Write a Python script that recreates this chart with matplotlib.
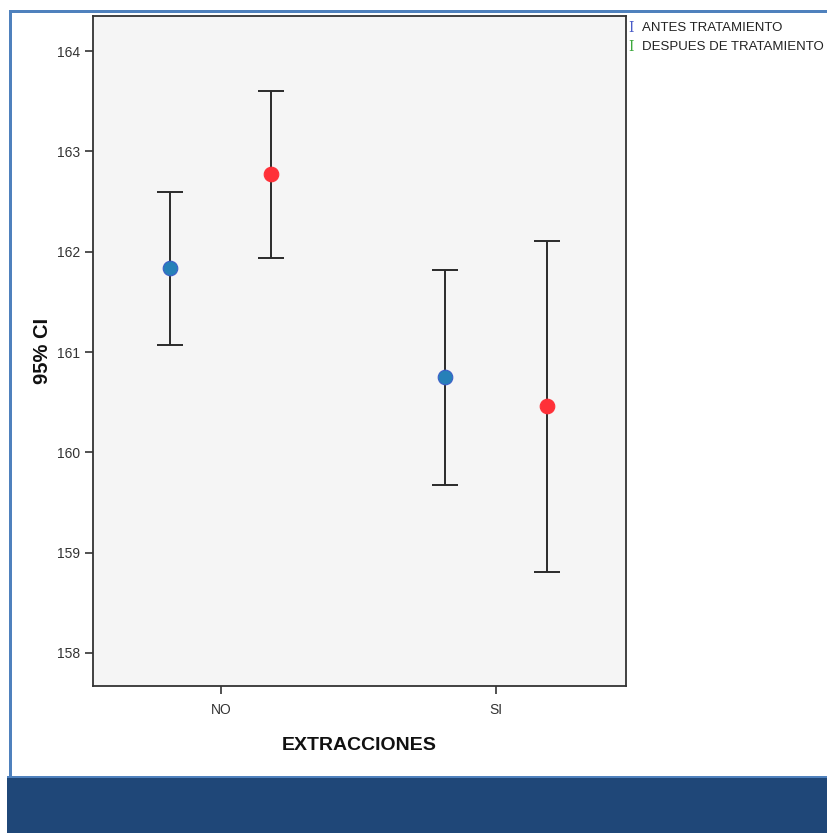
import matplotlib
matplotlib.use("Agg")
import matplotlib.pyplot as plt
from matplotlib.patches import Rectangle
import numpy as np

categories = ["NO", "SI"]
series = ["ANTES TRATAMIENTO", "DESPUES DE TRATAMIENTO"]
means = {
    "ANTES TRATAMIENTO": [161.84, 160.75],
    "DESPUES DE TRATAMIENTO": [162.77, 160.46],
}
lower = {
    "ANTES TRATAMIENTO": [161.07, 159.67],
    "DESPUES DE TRATAMIENTO": [161.94, 158.81],
}
upper = {
    "ANTES TRATAMIENTO": [162.60, 161.82],
    "DESPUES DE TRATAMIENTO": [163.60, 162.11],
}
yticks = [158, 159, 160, 161, 162, 163, 164]

marker_colors = {"ANTES TRATAMIENTO": "#2680B8", "DESPUES DE TRATAMIENTO": "#FF3038"}
marker_edges = {"ANTES TRATAMIENTO": "#3B5FC8", "DESPUES DE TRATAMIENTO": "#FF3038"}
legend_colors = {"ANTES TRATAMIENTO": "#4A5CC8", "DESPUES DE TRATAMIENTO": "#3CA83C"}
offsets = {"ANTES TRATAMIENTO": -0.184, "DESPUES DE TRATAMIENTO": 0.184}

W, H = 827, 833
fig = plt.figure(figsize=(W / 100, H / 100), dpi=100)
fig.patch.set_facecolor("white")

# frame decorations
fig.patches.append(Rectangle((7 / W, 0), 1 - 7 / W, 55 / H, transform=fig.transFigure,
                             facecolor="#1F4778", edgecolor="none", zorder=0))
fig.patches.append(Rectangle((7 / W, 55 / H), 1 - 7 / W, 2.5 / H, transform=fig.transFigure,
                             facecolor="#4F81BD", edgecolor="none", zorder=0))
fig.patches.append(Rectangle((9 / W, 57 / H), 3 / W, (H - 57 - 10) / H, transform=fig.transFigure,
                             facecolor="#4F81BD", edgecolor="none", zorder=0))
fig.patches.append(Rectangle((9 / W, (H - 13) / H), 1 - 9 / W, 3 / H, transform=fig.transFigure,
                             facecolor="#4F81BD", edgecolor="none", zorder=0))

ax = fig.add_axes([93 / W, (H - 686) / H, (626 - 93) / W, (686 - 16) / H])
ax.set_facecolor("#F5F5F5")

x = np.arange(len(categories))
for s in series:
    xs = x + offsets[s]
    m = np.array(means[s])
    lo = m - np.array(lower[s])
    hi = np.array(upper[s]) - m
    ax.errorbar(xs, m, yerr=[lo, hi], fmt="none", ecolor="#2A2A2A", elinewidth=1.4,
                capsize=9.5, capthick=1.4, zorder=2)
    ax.plot(xs, m, "o", markersize=10.5, markerfacecolor=marker_colors[s],
            markeredgecolor=marker_edges[s], markeredgewidth=0.8, zorder=3)

ax.set_xlim(-0.465, 1.473)
ax.set_ylim(157.67, 164.35)
ax.set_xticks(x)
ax.set_xticklabels(categories)
ax.set_yticks(yticks)
ax.set_yticklabels([str(t) for t in yticks])
ax.tick_params(axis="both", direction="out", length=6, width=1.2, color="#333333",
               labelsize=10, labelcolor="#333333")
ax.tick_params(axis="x", pad=6)
ax.tick_params(axis="y", pad=3)
for sp in ax.spines.values():
    sp.set_color("#333333")
    sp.set_linewidth(1.3)

ax.set_xlabel("EXTRACCIONES", fontsize=14, fontweight="bold", color="#111111",
              family="Liberation Sans", labelpad=15)
ax.set_ylabel("95% CI", fontsize=14.5, fontweight="bold", color="#111111",
              family="Liberation Sans", labelpad=4)
for lab in ax.get_xticklabels() + ax.get_yticklabels():
    lab.set_family("Liberation Sans")

# legend
for i, s in enumerate(series):
    yy = (H - 28 - i * 19) / H
    fig.text(628 / W, yy, "I", color=legend_colors[s], fontsize=10, family="DejaVu Serif",
             va="center", ha="left")
    fig.text(642 / W, yy, s, color="#222222", fontsize=9.5, family="Liberation Sans",
             va="center", ha="left")

fig.savefig("out.png", dpi=100)
